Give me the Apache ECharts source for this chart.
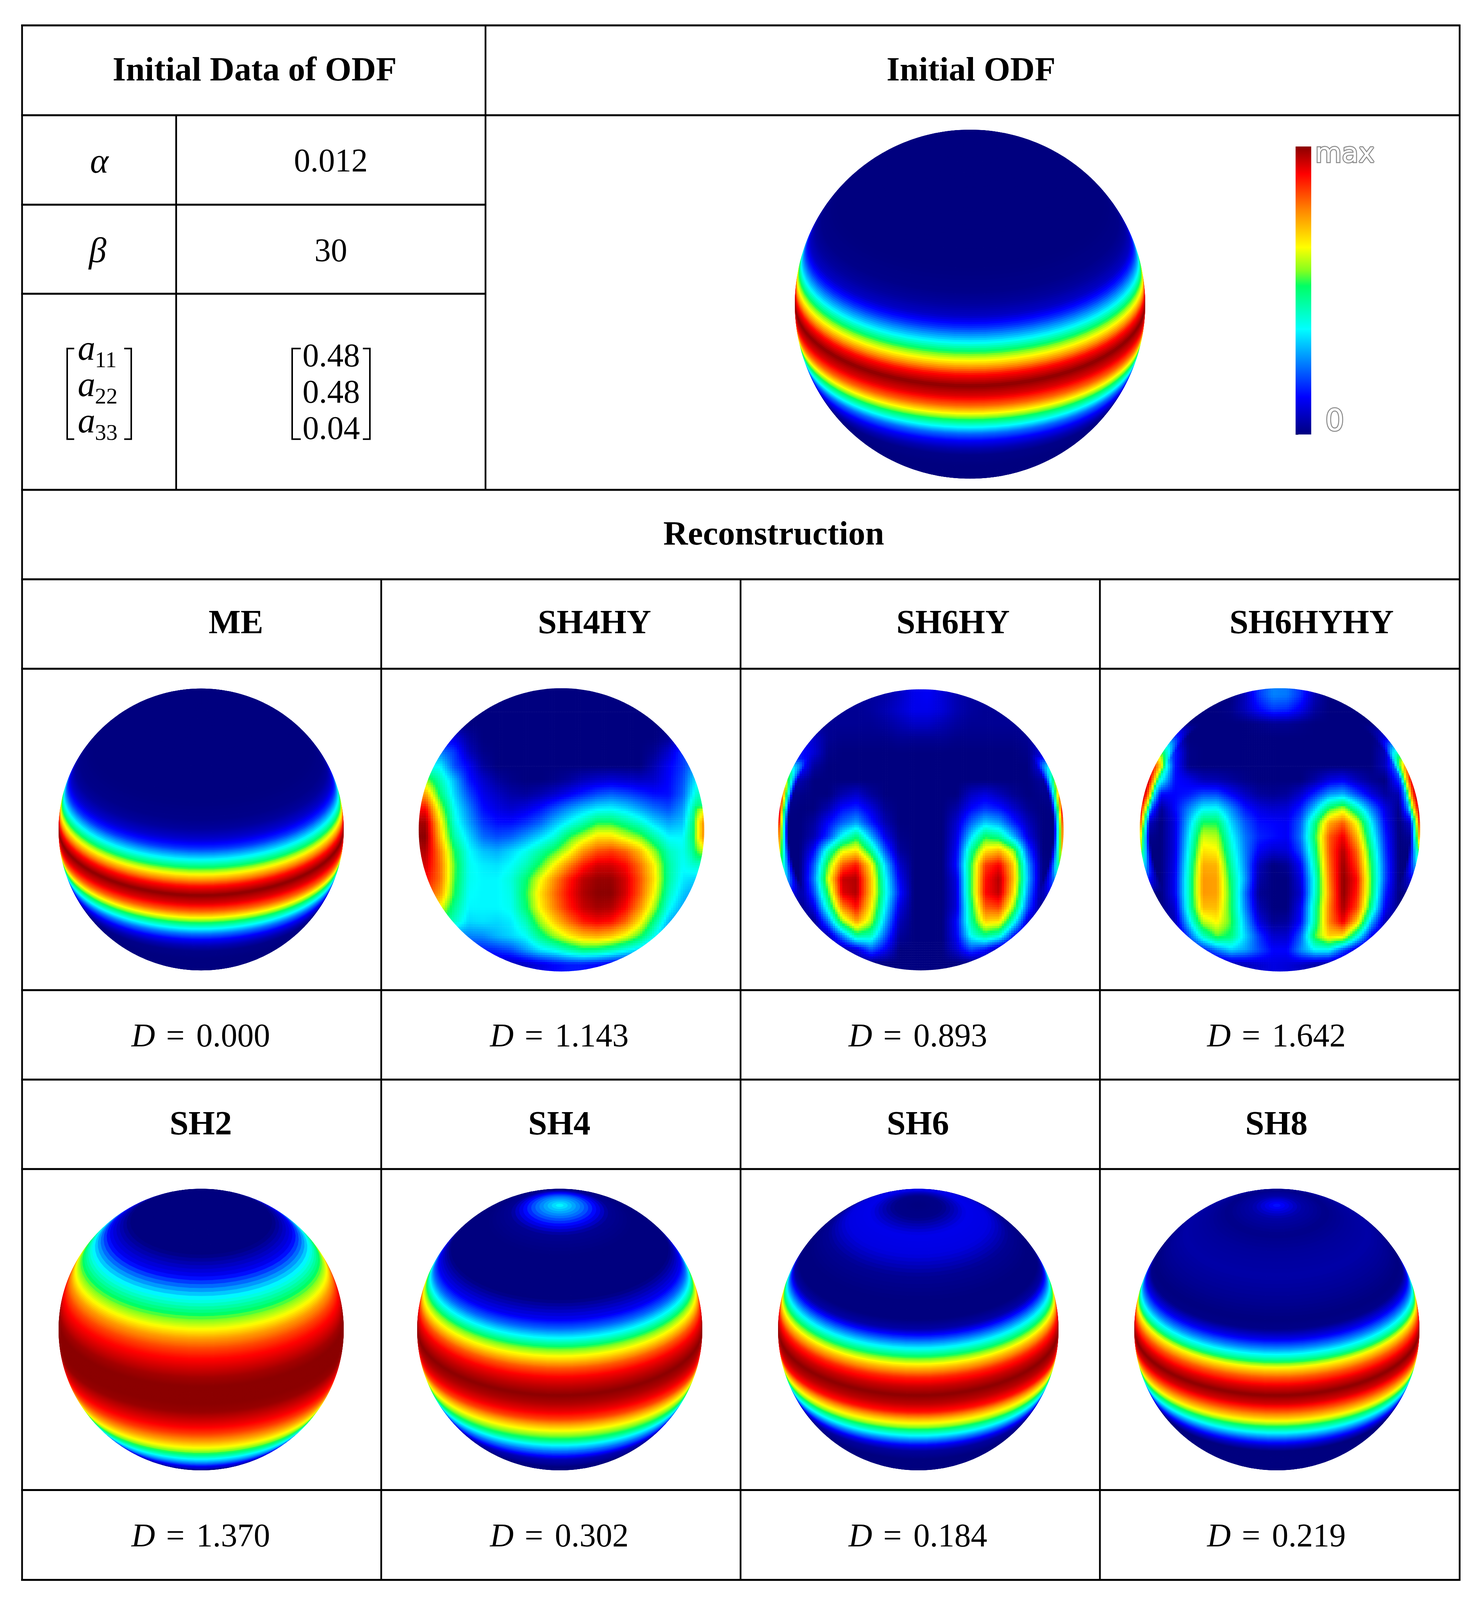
<!DOCTYPE html>
<html>
<head>
<meta charset="utf-8">
<title>Initial ODF and reconstruction</title>
<style>
html, body { margin: 0; padding: 0; background: #fff; overflow: hidden; }
#container { width: 3784px; }
</style>
<script src="https://cdn.jsdelivr.net/npm/echarts@6/dist/echarts.min.js"></script>
</head>
<body>
<div id="container"></div>
<script>
// colour scale of the figure (percent of max -> colour)
var scaleStops = [0, 13, 36.6, 51.6, 56.7, 65, 78.5, 90.5, 100];
var scaleColors = ['#00007f', '#0000ff', '#00ffff', '#00ff64', '#80ff20', '#ffff00', '#ff8000', '#ff0000', '#8b0000'];
var barTicks = [0, 14, 28, 42, 56, 70, 84, 98];

// table text
var headerNames = ['ME', 'SH4HY', 'SH6HY', 'SH6HYHY'];
var lowerNames = ['SH2', 'SH4', 'SH6', 'SH8'];
var upperD = ['0.000', '1.143', '0.893', '1.642'];
var lowerD = ['1.370', '0.302', '0.184', '0.219'];

// latitudes (degrees) at which the zonal spheres were read
var latitudes = [90, 80, 70, 60, 50, 40, 32, 28, 24, 20, 16, 12, 8, 4, 0, -4, -8, -12, -16, -20, -24, -28, -32, -40, -50, -62];
var initialOdf = [0, 0, 0, 0, 0, 0, 1, 3, 7, 18, 33, 52, 70, 90, 100, 93, 80, 60, 41, 23, 12, 5, 1, 0, 0, 0];
var meOdf = [0, 0, 0, 0, 0, 0, 1, 3, 8, 18, 34, 52, 71, 90, 100, 93, 80, 60, 41, 24, 12, 5, 1, 0, 0, 0];
var sh2Odf = [0, 0, 0, 0, 12, 38, 56, 65, 76, 84, 90, 94, 98, 100, 100, 100, 99, 95, 91, 85, 77, 68, 59, 35, 10, 0];
var sh4Odf = [37, 22, 2, 0, 0, 0, 12, 23, 38, 55, 68, 82, 91, 96, 100, 97, 92, 84, 71, 60, 50, 35, 24, 5, 0, 0];
var sh6Odf = [0, 1, 11, 10, 2, 0, 0, 4, 20, 37, 55, 72, 87, 95, 100, 96, 89, 72, 58, 41, 25, 11, 3, 0, 0, 0];
var sh8Odf = [15, 4, 1, 3, 4, 2, 0, 1, 11, 26, 44, 66, 82, 93, 100, 94, 82, 68, 51, 34, 19, 7, 0, 0, 0, 0];

// 20 x 20 readings across the bounding box of the non-zonal spheres, top row first
var sh4hyGrid = [
  [0,0,0,0,0,0,0,0,0,0,0,0,0,0,0,0,0,0,0,0],
  [0,0,0,0,0,0,0,0,0,0,0,0,0,0,0,0,0,0,0,0],
  [0,0,0,0,0,0,0,0,0,0,0,0,0,0,0,0,0,0,0,0],
  [10,10,10,3,0,0,0,0,0,0,0,0,0,0,0,0,0,2,10,10],
  [25,25,18,6,1,0,0,0,0,0,0,0,0,0,0,0,2,8,18,25],
  [38,36,20,12,3,0,0,0,0,0,0,0,0,0,0,0,5,12,18,30],
  [58,44,30,15,8,3,1,0,0,1,3,6,8,9,8,7,8,13,20,36],
  [75,50,33,20,11,7,4,3,5,8,12,16,20,22,20,17,14,14,22,42],
  [90,60,37,25,14,10,8,10,14,20,26,31,35,36,33,28,23,20,27,50],
  [98,68,40,28,18,14,14,17,22,30,37,44,52,52,47,41,33,28,31,56],
  [100,72,45,33,23,20,22,27,33,40,52,60,68,68,62,56,45,36,36,56],
  [97,78,52,37,31,29,33,38,45,53,63,76,83,85,81,72,58,43,38,50],
  [94,80,55,38,35,34,37,43,53,66,78,88,94,94,90,80,66,46,37,42],
  [90,80,54,38,36,36,40,50,64,77,88,96,99,99,94,83,68,46,35,32],
  [85,76,52,37,36,36,39,52,68,80,90,97,100,100,94,82,65,43,32,26],
  [70,65,47,36,36,36,38,50,66,78,88,95,98,97,90,77,59,38,28,22],
  [50,50,42,33,34,33,35,43,58,70,80,88,91,89,81,67,48,30,22,20],
  [25,25,25,25,26,30,33,37,48,58,66,72,74,71,64,53,38,22,20,18],
  [15,15,15,15,15,17,20,27,34,38,44,49,48,44,38,32,20,15,15,15],
  [5,5,5,5,5,5,5,7,10,13,15,15,13,10,8,5,5,5,5,5]
];
var sh6hyGrid = [
  [3,3,3,3,3,3,3,4,7,11,12,9,5,3,3,3,3,3,3,3],
  [2,2,2,2,2,2,3,5,8,11,11,9,5,3,2,2,2,2,2,2],
  [2,2,2,2,2,2,2,3,5,7,7,5,3,2,2,2,2,2,2,2],
  [12,12,8,2,1,1,1,1,2,2,2,2,1,1,1,1,1,2,8,12],
  [15,15,9,1,0,0,0,0,0,0,0,0,0,0,0,0,0,1,10,15],
  [15,18,3,0,0,0,0,0,0,0,0,0,0,0,0,0,0,0,12,15],
  [5,5,0,0,0,0,0,0,0,0,0,0,0,0,0,0,0,0,3,5],
  [3,1,0,0,5,8,3,0,0,0,0,0,0,7,10,6,2,0,1,3],
  [1,0,0,5,14,17,10,2,0,0,0,0,4,13,18,15,8,2,0,1],
  [0,0,3,13,22,28,16,5,0,0,0,0,8,22,32,28,16,6,0,0],
  [0,0,5,18,38,50,30,11,1,0,0,0,10,33,52,47,30,10,0,0],
  [0,0,13,42,63,68,48,21,3,0,0,0,12,46,68,73,58,20,0,0],
  [0,0,21,55,82,89,67,33,8,0,0,0,14,52,85,91,70,28,1,0],
  [0,0,24,62,95,97,72,38,12,0,0,0,10,52,89,97,72,30,1,0],
  [0,0,19,53,93,97,72,40,15,0,0,0,9,52,90,96,68,26,0,0],
  [0,0,10,42,78,90,67,36,10,0,0,0,9,48,82,85,58,20,0,0],
  [0,0,1,24,58,76,60,30,6,0,0,0,13,45,70,68,40,8,0,0],
  [0,0,0,5,26,48,44,22,3,0,0,0,12,38,49,42,15,0,0,0],
  [0,0,0,0,3,9,22,12,0,0,0,0,8,20,15,3,0,0,0,0],
  [0,0,0,0,0,0,0,0,0,0,0,0,0,0,0,0,0,0,0,0]
];
var sh6hyhyGrid = [
  [0,0,0,0,0,0,0,6,18,25,24,17,5,0,0,0,0,0,0,0],
  [0,0,0,0,0,0,1,6,13,18,17,11,3,0,0,0,0,0,0,0],
  [0,0,0,0,0,0,0,0,1,2,2,1,0,0,0,0,0,0,0,0],
  [5,5,8,0,0,0,0,0,0,0,0,0,0,0,0,0,0,3,8,8],
  [30,30,16,1,0,0,0,0,0,0,0,0,0,0,0,0,0,6,35,30],
  [60,55,15,1,0,0,0,0,0,0,0,0,0,0,0,0,0,6,30,60],
  [60,38,14,11,6,5,3,1,0,0,0,0,4,10,12,6,2,0,18,60],
  [60,13,13,15,20,20,13,7,3,2,3,8,17,27,30,20,10,3,5,60],
  [30,2,13,25,36,37,26,15,10,8,9,16,32,52,60,43,25,10,1,40],
  [8,0,10,31,52,52,33,21,14,13,12,22,48,74,82,64,36,13,0,10],
  [2,0,10,35,62,60,38,24,16,14,12,24,52,82,92,73,42,16,0,3],
  [0,0,10,38,68,66,42,25,12,8,9,20,48,82,97,81,48,18,0,0],
  [0,0,11,41,74,73,46,26,6,0,2,13,44,80,99,85,52,20,0,0],
  [0,0,12,43,76,75,50,28,4,0,0,10,40,78,100,90,54,20,0,0],
  [0,0,12,43,76,75,52,24,2,0,0,8,41,76,100,88,53,16,0,0],
  [0,0,8,42,72,72,52,26,5,0,0,12,45,78,98,84,47,12,0,0],
  [0,0,5,33,60,66,54,30,10,2,3,14,46,78,92,70,30,5,0,0],
  [0,0,0,20,42,55,50,33,18,8,8,22,54,70,68,40,12,0,0,0],
  [0,0,0,8,14,24,32,28,20,13,13,26,36,36,20,6,0,0,0,0],
  [0,0,0,0,0,2,4,6,8,10,9,7,4,2,0,0,0,0,0,0]
];

// thin bands right on the rim, read per grid row
var sh4hyRimRight = [0,0,0,0,0,0,0,0,60,78,78,60,40,30,0,0,0,0,0,0];
var sh4hyRimLeft = [0,0,0,0,0,0,0,0,0,0,0,0,0,0,0,0,0,0,0,0];
var sh6hyRimLeft = [0,0,0,0,0,35,60,80,92,95,85,65,45,30,10,0,0,0,0,0];
var sh6hyRimRight = [0,0,0,0,0,35,55,75,90,90,85,70,50,25,10,0,0,0,0,0];
var sh6hyhyRimLeft = [0,0,0,20,50,85,95,95,90,85,70,55,35,15,0,0,0,0,0,0];
var sh6hyhyRimRight = [0,0,0,10,40,75,92,95,95,90,80,50,30,10,0,0,0,0,0,0];

// the window can be shorter than the figure: fit the rows into it
var PAGE_H = Math.min(4292, window.innerHeight || 4292);
var FIT = PAGE_H / 4292;
function Y(y) { return y * FIT; }
document.getElementById('container').style.height = PAGE_H + 'px';

var myChart = echarts.init(document.getElementById('container'), null, { renderer: 'canvas', devicePixelRatio: 1 });

var TILT = 28 * Math.PI / 180; // the north pole leans towards the viewer
var BAND_STEPS = 6;            // shading steps between two read latitudes
var CELL_STEPS = 6;            // shading steps inside one read cell
var RIM_START = 0.93;          // part of the radius where a rim band starts
var SERIF = '"Liberation Serif"';

var parsedColors = scaleColors.map(function (c) {
  return [parseInt(c.substr(1, 2), 16), parseInt(c.substr(3, 2), 16), parseInt(c.substr(5, 2), 16)];
});

function scaleColor(v) {
  var i = 0;
  while (i < scaleStops.length - 2 && v > scaleStops[i + 1]) i++;
  var t = (v - scaleStops[i]) / (scaleStops[i + 1] - scaleStops[i]);
  t = Math.max(0, Math.min(1, t));
  var a = parsedColors[i], b = parsedColors[i + 1];
  return 'rgb(' + Math.round(a[0] + (b[0] - a[0]) * t) + ',' + Math.round(a[1] + (b[1] - a[1]) * t) + ',' + Math.round(a[2] + (b[2] - a[2]) * t) + ')';
}

function sphereClip(api, c, half) {
  var p = api.coord(c);
  var s = api.size([half, half]);
  return { type: 'ellipse', shape: { cx: p[0], cy: p[1], rx: s[0], ry: s[1] } };
}

// one latitude circle of the tilted sphere, only the part facing the viewer
function circlePoints(api, lat, reverse) {
  var k = -Math.tan(lat) * Math.tan(TILT);
  var lamMax = k <= -1 ? Math.PI : (k >= 1 ? 0 : Math.acos(k));
  var pts = [];
  for (var j = 0; j <= 36; j++) {
    var lam = lamMax * (j / 18 - 1) * (reverse ? -1 : 1);
    pts.push(api.coord([
      Math.cos(lat) * Math.sin(lam),
      Math.sin(lat) * Math.cos(TILT) - Math.cos(lat) * Math.cos(lam) * Math.sin(TILT)
    ]));
  }
  return pts;
}

function renderBand(vals, params, api) {
  var i = params.dataIndex;
  if (i >= latitudes.length - 1) return { type: 'group', children: [] };
  var latA = api.value(0), vA = api.value(1);
  var latB = latitudes[i + 1], vB = vals[i + 1];
  var children = [];
  for (var s = 0; s < BAND_STEPS; s++) {
    var a = (latA + (latB - latA) * s / BAND_STEPS) * Math.PI / 180;
    var b = (latA + (latB - latA) * (s + 1) / BAND_STEPS) * Math.PI / 180;
    var col = scaleColor(vA + (vB - vA) * (s + 0.5) / BAND_STEPS);
    children.push({
      type: 'polygon',
      shape: { points: circlePoints(api, a, false).concat(circlePoints(api, b, true)) },
      style: { fill: col, stroke: col, lineWidth: 1.5 }
    });
  }
  return { type: 'group', clipPath: sphereClip(api, [0, 0], 1), children: children };
}

function gridValue(g, x, y) {
  var u = Math.max(0, Math.min(g[0].length - 1.001, x - 0.5));
  var v = Math.max(0, Math.min(g.length - 1.001, y - 0.5));
  var i = Math.floor(u), j = Math.floor(v);
  var fu = u - i, fv = v - j;
  return (g[j][i] * (1 - fu) + g[j][i + 1] * fu) * (1 - fv) + (g[j + 1][i] * (1 - fu) + g[j + 1][i + 1] * fu) * fv;
}

function rimShade(v, x, y, rimLeft, rimRight) {
  var nx = (x - 10) / 10, ny = (y - 10) / 10;
  var r = Math.sqrt(nx * nx + ny * ny);
  if (r <= RIM_START) return v;
  var rim = nx < 0 ? rimLeft : rimRight;
  var u = Math.max(0, Math.min(rim.length - 1.001, y - 0.5));
  var j = Math.floor(u);
  var edge = rim[j] + (rim[j + 1] - rim[j]) * (u - j);
  if (edge <= v) return v;
  return v + (edge - v) * Math.min(1, (r - RIM_START) / (1 - RIM_START));
}

function renderCell(grid, rimLeft, rimRight, params, api) {
  var cx = api.value(0), cy = api.value(1);
  var children = [];
  for (var a = 0; a < CELL_STEPS; a++) {
    for (var b = 0; b < CELL_STEPS; b++) {
      var x0 = cx + a / CELL_STEPS, y0 = cy + b / CELL_STEPS;
      var xm = x0 + 0.5 / CELL_STEPS, ym = y0 + 0.5 / CELL_STEPS;
      var nx = (xm - 10) / 10, ny = (ym - 10) / 10;
      if (nx * nx + ny * ny > 1.05) continue;
      var p0 = api.coord([x0, y0]);
      var p1 = api.coord([x0 + 1 / CELL_STEPS, y0 + 1 / CELL_STEPS]);
      children.push({
        type: 'rect',
        shape: { x: p0[0], y: p0[1], width: p1[0] - p0[0] + 0.7, height: p1[1] - p0[1] + 0.7 },
        style: { fill: scaleColor(rimShade(gridValue(grid, xm, ym), xm, ym, rimLeft, rimRight)) }
      });
    }
  }
  return { type: 'group', clipPath: sphereClip(api, [10, 10], 10), children: children };
}

function renderBar(params, api) {
  var i = params.dataIndex;
  if (i >= scaleStops.length - 1) return { type: 'group', children: [] };
  var p0 = api.coord([0, scaleStops[i]]);
  var p1 = api.coord([1, scaleStops[i + 1]]);
  return {
    type: 'rect',
    shape: { x: p0[0], y: p1[1], width: p1[0] - p0[0], height: p0[1] - p1[1] + 0.5 },
    style: { fill: new echarts.graphic.LinearGradient(0, 1, 0, 0, [
      { offset: 0, color: scaleColors[i] }, { offset: 1, color: scaleColors[i + 1] }
    ]) }
  };
}

// boxes of the spheres in the page: left, top, width, height
var grids = [], xAxes = [], yAxes = [], series = [];

function addAxes(box, xr, yr, inverse) {
  grids.push({ left: box[0], top: Y(box[1]), width: box[2], height: Y(box[3]), containLabel: false });
  xAxes.push({ type: 'value', gridIndex: grids.length - 1, min: xr[0], max: xr[1], show: false });
  yAxes.push({ type: 'value', gridIndex: grids.length - 1, min: yr[0], max: yr[1], inverse: !!inverse, show: false });
  return grids.length - 1;
}

function addBandSphere(box, vals) {
  var idx = addAxes(box, [-1, 1], [-1, 1]);
  series.push({
    type: 'custom', xAxisIndex: idx, yAxisIndex: idx, silent: true, animation: false, progressive: 0, clip: false,
    encode: { x: 0, y: 1 },
    renderItem: function (params, api) { return renderBand(vals, params, api); },
    data: latitudes.map(function (lat, i) { return [lat, vals[i]]; })
  });
}

function addGridSphere(box, grid, rimLeft, rimRight) {
  var idx = addAxes(box, [0, 20], [0, 20], true);
  var cells = [];
  grid.forEach(function (row, j) {
    row.forEach(function (v, i) { cells.push([i, j, v]); });
  });
  series.push({
    type: 'custom', xAxisIndex: idx, yAxisIndex: idx, silent: true, animation: false, progressive: 0, clip: false,
    encode: { x: 0, y: 1 },
    renderItem: function (params, api) { return renderCell(grid, rimLeft, rimRight, params, api); },
    data: cells
  });
}

addBandSphere([2035, 348, 897, 936], initialOdf);
addBandSphere([150, 1847, 730, 756], meOdf);
addGridSphere([1072, 1846, 731, 760], sh4hyGrid, sh4hyRimLeft, sh4hyRimRight);
addGridSphere([1992, 1849, 731, 754], sh6hyGrid, sh6hyRimLeft, sh6hyRimRight);
addGridSphere([2918, 1846, 718, 760], sh6hyhyGrid, sh6hyhyRimLeft, sh6hyhyRimRight);
addBandSphere([150, 3189, 730, 755], sh2Odf);
addBandSphere([1068, 3189, 730, 755], sh4Odf);
addBandSphere([1992, 3189, 718, 755], sh6Odf);
addBandSphere([2904, 3189, 730, 755], sh8Odf);

// colour bar
var barIdx = addAxes([3317, 393, 40, 772], [0, 1], [0, 100]);
yAxes[barIdx] = {
  type: 'value', gridIndex: barIdx, min: 0, max: 100, position: 'right', show: true,
  axisLine: { show: false },
  splitLine: { show: false },
  axisTick: { show: true, length: 7, customValues: barTicks, lineStyle: { color: '#333', width: 2 } },
  axisLabel: {
    show: true, margin: 10, customValues: [4, 97], color: '#fff',
    fontFamily: '"DejaVu Sans"', fontSize: 70, textBorderColor: '#8a8a8a', textBorderWidth: 5,
    formatter: function (v) { return v > 50 ? '{m|max}' : '{z|0}'; },
    rich: {
      m: { fontFamily: '"DejaVu Sans"', fontSize: 70, color: '#fff', textBorderColor: '#8a8a8a', textBorderWidth: 5 },
      z: { fontFamily: '"DejaVu Sans"', fontSize: 76, color: '#fff', textBorderColor: '#8a8a8a', textBorderWidth: 5, padding: [0, 0, 0, 26] }
    }
  }
};
series.push({
  type: 'custom', xAxisIndex: barIdx, yAxisIndex: barIdx, silent: true, animation: false, clip: false,
  renderItem: renderBar,
  data: scaleStops.map(function (v) { return [0, v]; })
});

// table ruling and text
var graphics = [];

function hLine(y, x0, x1) {
  graphics.push({ type: 'line', z: 5, shape: { x1: x0, y1: Y(y), x2: x1, y2: Y(y) }, style: { stroke: '#000', lineWidth: 5 } });
}
function vLine(x, y0, y1) {
  graphics.push({ type: 'line', z: 5, shape: { x1: x, y1: Y(y0), x2: x, y2: Y(y1) }, style: { stroke: '#000', lineWidth: 4.5 } });
}
function label(text, x, y, font, align) {
  graphics.push({ type: 'text', z: 6, style: { text: text, x: x, y: Y(y), font: font, fill: '#000', align: align || 'center', verticalAlign: 'middle' } });
}
function bracket(x0, x1) {
  graphics.push({ type: 'polyline', z: 6, shape: { points: [[x1, Y(935)], [x0, Y(935)], [x0, Y(1178)], [x1, Y(1178)]] }, style: { stroke: '#000', lineWidth: 4, fill: 'none' } });
}
function dLabel(value, x, y) {
  graphics.push({
    type: 'text', z: 6,
    style: {
      text: '{d|D}{e|=}{n|' + value + '}', x: x, y: Y(y), align: 'center', verticalAlign: 'middle', fill: '#000',
      rich: {
        d: { font: 'italic 84px ' + SERIF, fill: '#000' },
        e: { font: '84px ' + SERIF, fill: '#000', padding: [0, 30, 0, 28] },
        n: { font: '84px ' + SERIF, fill: '#000' }
      }
    }
  });
}

hLine(68, 54, 3739);
hLine(309, 54, 3739);
hLine(549, 54, 1243);
hLine(788, 54, 1243);
[1314, 1554, 1794, 2656, 2896, 3136, 3997, 4238].forEach(function (y) { hLine(y, 54, 3739); });
vLine(56.5, 66, 4240);
vLine(3737, 66, 4240);
vLine(1243, 68, 1314);
vLine(451, 309, 1314);
[976, 1896, 2816].forEach(function (x) { vLine(x, 1554, 4238); });

var BOLD = 'bold 87px ' + SERIF;
var PLAIN = '84px ' + SERIF;
var ITALIC = 'italic 90px ' + SERIF;
label('Initial Data of ODF', 652, 192, BOLD);
label('Initial ODF', 2486, 192, BOLD);
label('Reconstruction', 1981, 1437, BOLD);
label('\u03b1', 254, 438, ITALIC);
label('\u03b2', 250, 678, ITALIC);
label('0.012', 847, 437, PLAIN);
label('30', 847, 678, PLAIN);
['11', '22', '33'].forEach(function (sub, i) {
  label('a', 199, 940 + i * 97.5, ITALIC, 'left');
  label(sub, 243, 969 + i * 97.5, '58px ' + SERIF, 'left');
});
['0.48', '0.48', '0.04'].forEach(function (v, i) { label(v, 848, 960 + i * 97.5, PLAIN); });
bracket(172, 190);
bracket(336, 318);
bracket(748, 770);
bracket(947, 929);

var upperX = [604, 1522, 2440, 3358];
var centerX = [514, 1432, 2350, 3268];
headerNames.forEach(function (n, i) { label(n, upperX[i], 1675, BOLD); });
lowerNames.forEach(function (n, i) { label(n, centerX[i], 3019, BOLD); });
upperD.forEach(function (v, i) { dLabel(v, centerX[i], 2784); });
lowerD.forEach(function (v, i) { dLabel(v, centerX[i], 4125); });

var option = {
  backgroundColor: '#fff',
  animation: false,
  tooltip: { show: false },
  grid: grids,
  xAxis: xAxes,
  yAxis: yAxes,
  series: series,
  graphic: { elements: graphics }
};
myChart.setOption(option);
</script>
</body>
</html>
